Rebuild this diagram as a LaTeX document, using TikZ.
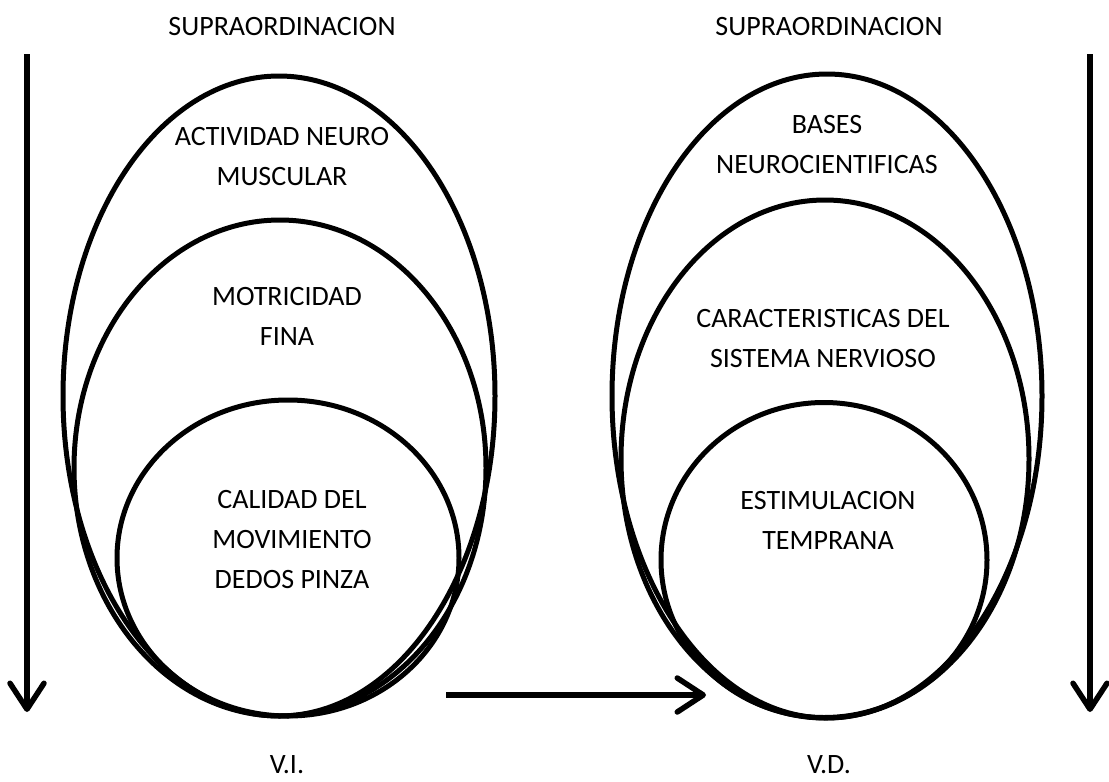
\documentclass[tikz,border=0pt]{standalone}
\usepackage{fontspec}
\setmainfont{Carlito}
\usepackage{tikz}
\usetikzlibrary{arrows.meta,shapes.geometric}

\begin{document}
\begin{tikzpicture}[
    x=1pt, y=-1pt,
    oval/.style={
        ellipse, draw, line width=5pt, inner sep=0pt
    },
    lbl/.style={font=\fontsize{28}{40}\selectfont, align=center},
    arr/.style={-{Straight Barb[length=26pt, width=34pt, round]}, line width=5.5pt}
]
\useasboundingbox (0,0) rectangle (1109,782);
\node[oval, minimum width=432pt, minimum height=640pt] (bigL) at (279, 396) {};
\node[oval, minimum width=412pt, minimum height=496pt] (midL) at (280, 468) {};
\node[oval, minimum width=342pt, minimum height=316pt] (innL) at (288, 558) {};
\node[oval, minimum width=430pt, minimum height=644pt] (bigR) at (827, 396) {};
\node[oval, minimum width=408pt, minimum height=518pt] (midR) at (825, 459) {};
\node[oval, minimum width=326pt, minimum height=315pt] (innR) at (824, 560) {};
\node[lbl] (supL) at (282, 27) {SUPRAORDINACION};
\node[lbl] (supR) at (829, 27) {SUPRAORDINACION};
\node[lbl] (actL) at (282, 157) {ACTIVIDAD NEURO\\MUSCULAR};
\node[lbl] (motL) at (287, 316) {MOTRICIDAD\\FINA};
\node[lbl] (calL) at (292, 540) {CALIDAD DEL\\MOVIMIENTO\\DEDOS PINZA};
\node[lbl] (basR) at (827, 145) {BASES\\NEUROCIENTIFICAS};
\node[lbl] (carR) at (823, 339) {CARACTERISTICAS DEL\\SISTEMA NERVIOSO};
\node[lbl] (estR) at (828, 520) {ESTIMULACION\\TEMPRANA};
\node[lbl] (vi) at (287, 765) {V.I.};
\node[lbl] (vd) at (829, 765) {V.D.};
\coordinate (topL) at (27, 54);
\coordinate (endL) at (27, 712);
\coordinate (topR) at (1090, 54);
\coordinate (endR) at (1090, 712);
\coordinate (fromVI) at (446, 695);
\coordinate (toVD) at (706, 695);
\draw[arr] (topL) -- (endL);
\draw[arr] (topR) -- (endR);
\draw[arr] (fromVI) -- (toVD);
\end{tikzpicture}
\end{document}
